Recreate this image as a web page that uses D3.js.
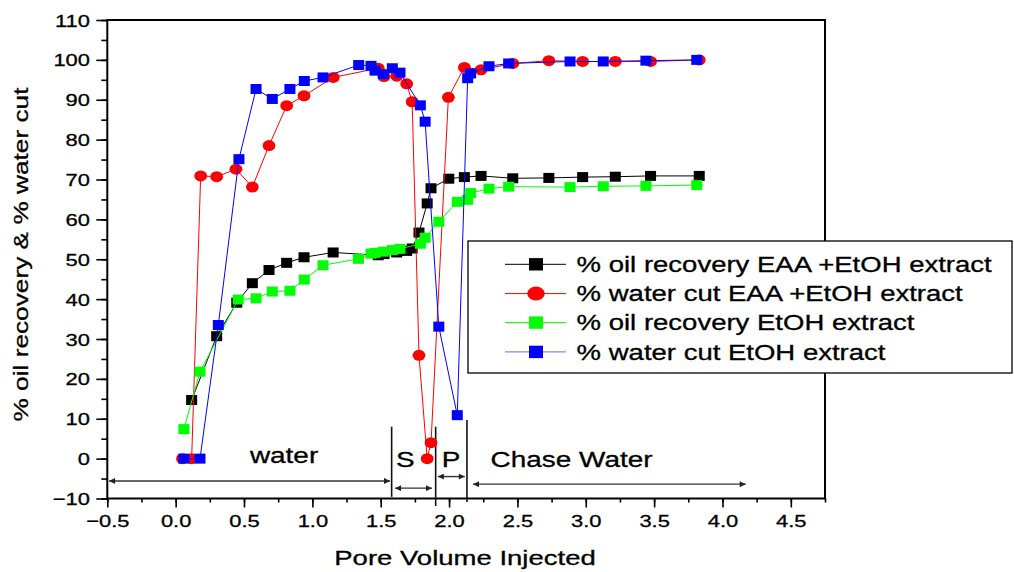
<!DOCTYPE html>
<html>
<head>
<meta charset="utf-8">
<script src="https://cdn.jsdelivr.net/npm/d3@7"></script>
<style>
  html, body { margin: 0; padding: 0; background: #fff; }
  svg { display: block; font-family: "Liberation Sans", Arial, sans-serif; }
  svg text { stroke: #000; stroke-width: 0.3px; fill: #000; }
</style>
</head>
<body>
<svg id="chart" width="1014" height="572"></svg>
<script>
// ---- Flood test data: pore volume injected vs. % recovery / % water cut ----
const oilEAAx = [0.117, 0.30, 0.447, 0.561, 0.683, 0.812, 0.939, 1.152, 1.482, 1.524, 1.617, 1.69, 1.73, 1.78, 1.84, 1.868, 1.998, 2.112, 2.234, 2.466, 2.73, 2.977, 3.216, 3.474, 3.83];
const oilEAAy = [14.7, 30.7, 39.1, 44.0, 47.3, 49.1, 50.5, 51.7, 51.0, 51.3, 51.7, 52.1, 52.7, 56.7, 64.0, 67.8, 70.2, 70.6, 70.9, 70.3, 70.4, 70.6, 70.7, 70.9, 70.9];

const wcEAAx = [0.05, 0.117, 0.183, 0.30, 0.441, 0.561, 0.683, 0.812, 0.939, 1.153, 1.482, 1.524, 1.617, 1.69, 1.73, 1.78, 1.84, 1.868, 1.995, 2.112, 2.234, 2.466, 2.73, 2.977, 3.216, 3.474, 3.83];
const wcEAAy = [0, 0, 70.9, 70.7, 72.6, 68.1, 78.5, 88.5, 91.0, 95.6, 97.9, 95.8, 95.9, 94.0, 89.5, 25.9, 0, 4.0, 90.6, 98.1, 97.5, 99.1, 99.8, 99.6, 99.6, 99.6, 100];

const oilEtOHx = [0.06, 0.178, 0.458, 0.588, 0.707, 0.836, 0.941, 1.078, 1.337, 1.429, 1.458, 1.519, 1.585, 1.641, 1.79, 1.825, 1.925, 2.06, 2.136, 2.158, 2.292, 2.436, 2.885, 3.128, 3.44, 3.812];
const oilEtOHy = [7.4, 21.8, 39.9, 40.2, 41.9, 42.1, 44.9, 48.5, 50.1, 51.4, 51.6, 51.9, 52.3, 52.6, 53.9, 55.4, 59.4, 64.4, 64.9, 66.6, 67.7, 68.2, 68.1, 68.3, 68.4, 68.6];

const wcEtOHx = [0.06, 0.178, 0.312, 0.463, 0.588, 0.707, 0.836, 0.941, 1.078, 1.339, 1.429, 1.458, 1.519, 1.585, 1.641, 1.79, 1.825, 1.925, 2.06, 2.136, 2.158, 2.292, 2.436, 2.885, 3.128, 3.44, 3.812];
const wcEtOHy = [0, 0, 33.5, 75.1, 92.7, 90.2, 92.7, 94.7, 95.6, 98.7, 98.5, 97.3, 96.4, 97.9, 96.8, 88.6, 84.5, 33.1, 10.9, 95.4, 96.6, 98.4, 99.1, 99.6, 99.6, 99.8, 100];

const seriesNames = [
  "% oil recovery EAA +EtOH extract",
  "% water cut EAA +EtOH extract",
  "% oil recovery EtOH extract",
  "% water cut EtOH extract"
];
const seriesColors = ["#000000", "#ff0000", "#00ff00", "#0000ff"];
const seriesSymbols = ["square", "circle", "square", "square"];

const xTicksMajor = [-0.5, 0, 0.5, 1, 1.5, 2, 2.5, 3, 3.5, 4, 4.5];
const yTicksMajor = [-10, 0, 10, 20, 30, 40, 50, 60, 70, 80, 90, 100, 110];

// Injection stages along the x axis (pore volumes)
const stageLabels = ["water", "S", "P", "Chase Water"];
const stageLabelX = [0.793, 1.68, 2.014, 2.896];
const stageLabelY = [-1.1, -2.1, -2.1, -2.1];
const stageArrowFrom = [-0.487, 1.605, 1.918, 2.175];
const stageArrowTo = [1.568, 1.875, 2.115, 4.17];
const stageArrowY = [-5.6, -7.4, -4.5, -6.4];
const stageBoundX = [1.58, 1.902, 2.131];
const stageBoundTop = [8.0, 8.0, 9.7];
const stageBoundBottom = [-9.6, -11.9, -10.9];

// ---- Scales ----
const svg = d3.select("#chart");
const x = d3.scaleLinear().domain([-0.5, 4.75]).range([107.3, 825]);
const y = d3.scaleLinear().domain([-10, 110]).range([498.5, 20]);

// wide lettering: text is stretched horizontally
function stretch(sel, px, py, k, rot) {
  sel.attr("x", 0).attr("y", 0)
     .attr("transform", `translate(${px},${py})${rot ? ` rotate(${rot})` : ""} scale(${k},1)`);
  return sel;
}

// ---- Axes ----
const xMinor = d3.range(-0.5, 4.76, 0.25);
const yMinor = d3.range(-10, 111, 5);

const gx = svg.append("g").attr("transform", `translate(0,${y(-10)})`);
gx.append("g").call(d3.axisBottom(x).tickValues(xMinor).tickSize(4).tickSizeOuter(0).tickFormat(""));
gx.append("g").call(d3.axisBottom(x).tickValues(xTicksMajor).tickSize(9).tickSizeOuter(0)
  .tickFormat(d3.format(".1f")));
gx.selectAll(".domain").remove();
gx.selectAll("line").attr("stroke", "#000").attr("stroke-width", 1.6);
gx.selectAll("text")
  .attr("font-size", 17).attr("fill", "#000")
  .attr("font-family", "'Liberation Sans', Arial, sans-serif")
  .attr("dy", null)
  .each(function () { stretch(d3.select(this), 0, 28.7, 1.29); });

const gy = svg.append("g").attr("transform", `translate(${x(-0.5)},0)`);
gy.append("g").call(d3.axisLeft(y).tickValues(yMinor).tickSize(6).tickSizeOuter(0).tickFormat(""));
gy.append("g").call(d3.axisLeft(y).tickValues(yTicksMajor).tickSize(11).tickSizeOuter(0)
  .tickFormat(d3.format("d")));
gy.selectAll(".domain").remove();
gy.selectAll("line").attr("stroke", "#000").attr("stroke-width", 1.6);
gy.selectAll("text")
  .attr("font-size", 17).attr("fill", "#000")
  .attr("font-family", "'Liberation Sans', Arial, sans-serif")
  .attr("dy", null)
  .each(function () { stretch(d3.select(this), -17.3, 6.1, 1.29); });

// frame
svg.append("rect")
  .attr("x", x(-0.5)).attr("y", y(110))
  .attr("width", x(4.75) - x(-0.5)).attr("height", y(-10) - y(110))
  .attr("fill", "none").attr("stroke", "#000").attr("stroke-width", 2);

// axis titles
stretch(svg.append("text").text("Pore Volume Injected")
  .attr("font-size", 21).attr("text-anchor", "middle"), 465, 565, 1.31);
stretch(svg.append("text").text("% oil recovery & % water cut")
  .attr("font-size", 21).attr("text-anchor", "middle"), 28, 254.5, 1.25, -90);

// ---- Stage annotations ----
const defs = svg.append("defs");
defs.append("marker").attr("id", "ah").attr("viewBox", "0 0 10 10")
  .attr("refX", 10).attr("refY", 5).attr("markerWidth", 9).attr("markerHeight", 6)
  .attr("markerUnits", "userSpaceOnUse").attr("orient", "auto-start-reverse")
  .append("path").attr("d", "M0,0 L10,5 L0,10 Z").attr("fill", "#222");

const ann = svg.append("g");
stageBoundX.forEach((bx, i) => {
  ann.append("line")
    .attr("x1", x(bx)).attr("x2", x(bx))
    .attr("y1", y(stageBoundTop[i])).attr("y2", y(stageBoundBottom[i]))
    .attr("stroke", "#111").attr("stroke-width", 1.6);
});
stageArrowY.forEach((ay, i) => {
  ann.append("line")
    .attr("x1", x(stageArrowFrom[i])).attr("x2", x(stageArrowTo[i]))
    .attr("y1", y(ay)).attr("y2", y(ay))
    .attr("stroke", "#333").attr("stroke-width", 1.4)
    .attr("marker-start", "url(#ah)").attr("marker-end", "url(#ah)");
});
stageLabels.forEach((t, i) => {
  stretch(ann.append("text").text(t).attr("font-size", 22).attr("text-anchor", "middle"),
    x(stageLabelX[i]), y(stageLabelY[i]), 1.27);
});

// ---- Series ----
const seriesX = [oilEAAx, wcEAAx, oilEtOHx, wcEtOHx];
const seriesY = [oilEAAy, wcEAAy, oilEtOHy, wcEtOHy];
const line = d3.line().x(d => x(d[0])).y(d => y(d[1]));

function drawSymbol(g, sym, color, cx, cy, big) {
  if (sym === "circle") {
    g.append("ellipse").attr("cx", cx).attr("cy", cy)
      .attr("rx", big ? 8.8 : 6.4).attr("ry", big ? 7 : 5.5).attr("fill", color);
  } else {
    const w = big ? 14 : 11, h = big ? 12.4 : 10;
    g.append("rect").attr("x", cx - w / 2).attr("y", cy - h / 2)
      .attr("width", w).attr("height", h).attr("fill", color);
  }
}

seriesNames.forEach((name, s) => {
  const pts = seriesX[s].map((v, i) => [v, seriesY[s][i]]);
  const g = svg.append("g");
  g.append("path").datum(pts).attr("d", line)
    .attr("fill", "none").attr("stroke", seriesColors[s]).attr("stroke-width", 1);
  pts.forEach(p => drawSymbol(g, seriesSymbols[s], seriesColors[s], x(p[0]), y(p[1]), false));
});

// ---- Legend ----
const lg = svg.append("g");
lg.append("rect").attr("x", 468).attr("y", 241).attr("width", 544).attr("height", 132)
  .attr("fill", "#fff").attr("stroke", "#000").attr("stroke-width", 1.3);
const legendRowY = [264.3, 293.6, 322.6, 351.9];
seriesNames.forEach((name, s) => {
  const ry = legendRowY[s];
  lg.append("line").attr("x1", 505).attr("x2", 566).attr("y1", ry).attr("y2", ry)
    .attr("stroke", seriesColors[s]).attr("stroke-width", 1).attr("stroke-opacity", s === 3 ? 0.6 : 1);
  drawSymbol(lg, seriesSymbols[s], seriesColors[s], 536, ry, true);
  stretch(lg.append("text").text(name).attr("font-size", 21.5), 576.6, ry + 7.6, 1.28);
});
</script>
</body>
</html>
